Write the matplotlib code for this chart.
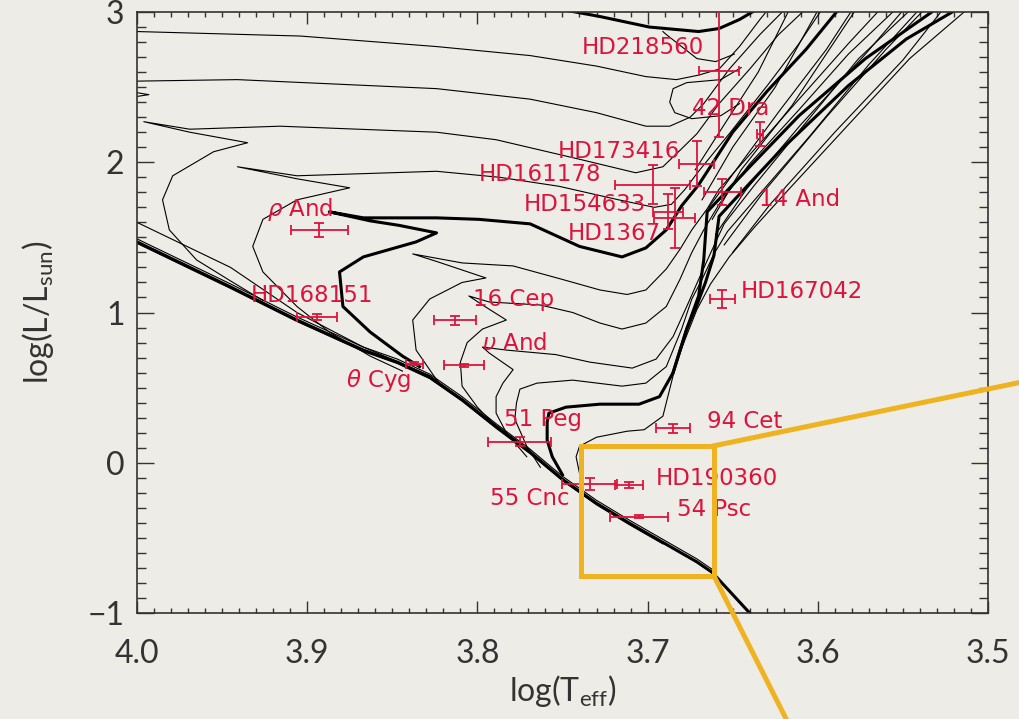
import matplotlib.pyplot as plt
from matplotlib.ticker import MultipleLocator, FormatStrFormatter

# ---- evolutionary tracks, log(Teff) / log(L/Lsun) ----
zams_teff = [4.000, 3.945, 3.906, 3.867, 3.847, 3.828, 3.809, 3.789, 3.769, 3.750,
             3.730, 3.711, 3.691, 3.671, 3.662, 3.640]
zams_lum = [1.47, 1.17, 0.95, 0.75, 0.67, 0.57, 0.42, 0.24, 0.07, -0.11,
            -0.27, -0.40, -0.53, -0.66, -0.73, -1.00]
zams2_teff = [4.000, 3.945, 3.906, 3.867, 3.847, 3.828, 3.809, 3.789, 3.769, 3.750,
              3.730, 3.711, 3.691, 3.671, 3.662]
zams2_lum = [1.49, 1.19, 0.97, 0.77, 0.69, 0.59, 0.44, 0.26, 0.09, -0.09,
             -0.25, -0.38, -0.51, -0.64, -0.71]
zams3_teff = [4.000, 3.945, 3.906, 3.867, 3.847, 3.828, 3.809, 3.789, 3.769, 3.750,
              3.730, 3.711, 3.691]
zams3_lum = [1.46, 1.16, 0.94, 0.74, 0.66, 0.56, 0.41, 0.23, 0.06, -0.12,
             -0.28, -0.41, -0.54]
edge_teff = [4.000, 3.945, 3.906, 3.867, 3.828, 3.789, 3.769]
edge_lum = [1.60, 1.30, 1.00, 0.77, 0.58, 0.25, 0.08]

top_teff = [3.787, 3.752, 3.728, 3.699, 3.670, 3.658, 3.646, 3.637]
top_lum = [3.07, 3.02, 2.97, 2.90, 2.87, 2.89, 2.95, 3.01]

h1_teff = [4.000, 3.904, 3.824, 3.769, 3.730, 3.701, 3.683, 3.670, 3.658, 3.646, 3.634, 3.629]
h1_lum = [2.87, 2.84, 2.77, 2.71, 2.64, 2.57, 2.55, 2.58, 2.62, 2.77, 2.95, 3.02]
loop1_teff = [3.691, 3.689, 3.671, 3.660, 3.649]
loop1_lum = [2.87, 2.85, 2.69, 2.67, 2.72]

h2_teff = [4.04, 3.993, 4.02, 4.03, 4.000, 3.941, 3.824, 3.769, 3.730, 3.701, 3.687,
           3.675, 3.667, 3.652, 3.634, 3.620]
h2_lum = [2.37, 2.45, 2.50, 2.53, 2.54, 2.55, 2.49, 2.42, 2.33, 2.24, 2.24,
          2.30, 2.39, 2.62, 2.85, 3.01]
loop2_teff = [3.645, 3.657, 3.677, 3.685, 3.687, 3.684, 3.674, 3.657, 3.646]
loop2_lum = [2.63, 2.55, 2.53, 2.49, 2.40, 2.33, 2.29, 2.31, 2.39]

h3_teff = [3.926, 3.945, 3.965, 3.981, 3.985, 3.979, 3.955, 3.935, 3.969, 3.996, 3.969,
           3.916, 3.824, 3.789, 3.740, 3.707, 3.691, 3.680, 3.671, 3.658, 3.640,
           3.623, 3.608]
h3_lum = [1.08, 1.21, 1.35, 1.55, 1.75, 1.91, 2.07, 2.13, 2.20, 2.27, 2.22,
          2.24, 2.20, 2.15, 2.02, 1.93, 1.97, 2.09, 2.19, 2.39, 2.62,
          2.85, 3.01]

h4_teff = [3.844, 3.863, 3.887, 3.906, 3.926, 3.932, 3.926, 3.906, 3.875, 3.906, 3.941,
           3.906, 3.824, 3.787, 3.752, 3.717, 3.696, 3.686, 3.678, 3.670, 3.652,
           3.629, 3.611, 3.598]
h4_lum = [0.61, 0.71, 0.87, 1.04, 1.27, 1.44, 1.62, 1.75, 1.83, 1.89, 1.97,
          1.91, 1.94, 1.90, 1.84, 1.75, 1.70, 1.72, 1.82, 1.94, 2.19,
          2.52, 2.79, 3.01]

rho_teff = [3.834, 3.844, 3.863, 3.879, 3.881, 3.867, 3.836, 3.824, 3.846, 3.863, 3.887,
            3.867, 3.824, 3.799, 3.769, 3.740, 3.715, 3.701, 3.689, 3.680, 3.670,
            3.650, 3.630, 3.607, 3.589]
rho_lum = [0.64, 0.71, 0.87, 1.04, 1.27, 1.37, 1.47, 1.53, 1.58, 1.61, 1.67,
           1.63, 1.63, 1.62, 1.59, 1.44, 1.37, 1.43, 1.55, 1.71, 1.85,
           2.20, 2.47, 2.75, 3.00]

l1_teff = [3.822, 3.836, 3.838, 3.828, 3.809, 3.795, 3.824, 3.838, 3.809, 3.779, 3.750,
           3.728, 3.712, 3.701, 3.689, 3.681, 3.674, 3.665, 3.658, 3.640, 3.611,
           3.582, 3.564]
l1_lum = [0.52, 0.75, 0.95, 1.09, 1.20, 1.23, 1.34, 1.39, 1.33, 1.31, 1.22,
          1.15, 1.12, 1.15, 1.29, 1.42, 1.55, 1.69, 1.82, 2.05, 2.42,
          2.79, 3.01]

l2_teff = [3.773, 3.789, 3.800, 3.809, 3.810, 3.806, 3.797, 3.783, 3.797, 3.805, 3.793,
           3.763, 3.744, 3.728, 3.715, 3.701, 3.689, 3.681, 3.674, 3.667, 3.658,
           3.640, 3.611, 3.582, 3.555]
l2_lum = [0.11, 0.24, 0.37, 0.51, 0.67, 0.80, 0.89, 0.95, 1.05, 1.11, 1.07,
          1.05, 1.00, 0.93, 0.89, 0.93, 1.04, 1.22, 1.40, 1.55, 1.72,
          1.99, 2.35, 2.72, 3.01]

l3_teff = [3.771, 3.783, 3.789, 3.789, 3.785, 3.779, 3.793, 3.797, 3.783, 3.754, 3.734,
           3.709, 3.695, 3.685, 3.677, 3.670, 3.662, 3.655, 3.637, 3.608, 3.576,
           3.546]
l3_lum = [0.04, 0.20, 0.33, 0.44, 0.53, 0.62, 0.73, 0.77, 0.75, 0.72, 0.67,
          0.63, 0.69, 0.84, 1.04, 1.22, 1.42, 1.59, 1.85, 2.25, 2.69,
          3.01]

l4_teff = [3.763, 3.771, 3.778, 3.777, 3.775, 3.765, 3.744, 3.715, 3.701, 3.689, 3.680,
           3.674, 3.668, 3.661, 3.653, 3.634, 3.605, 3.570, 3.541]
l4_lum = [-0.03, 0.11, 0.29, 0.40, 0.49, 0.53, 0.55, 0.51, 0.53, 0.64, 0.89,
          1.09, 1.22, 1.39, 1.54, 1.79, 2.17, 2.65, 3.01]

peg_teff = [3.750, 3.756, 3.759, 3.759, 3.758, 3.748, 3.728, 3.705, 3.693, 3.685, 3.677,
            3.670, 3.667, 3.665, 3.640, 3.611, 3.572, 3.533]
peg_lum = [-0.08, 0.04, 0.15, 0.27, 0.33, 0.37, 0.39, 0.39, 0.44, 0.60, 0.89,
           1.11, 1.35, 1.67, 1.97, 2.31, 2.69, 3.00]

low_teff = [3.738, 3.742, 3.740, 3.730, 3.712, 3.702, 3.691, 3.687, 3.683, 3.678, 3.671,
            3.663, 3.652, 3.637, 3.617, 3.582, 3.546, 3.513]
low_lum = [-0.18, 0.04, 0.11, 0.17, 0.21, 0.22, 0.31, 0.49, 0.67, 0.82, 1.02,
           1.19, 1.37, 1.57, 1.82, 2.25, 2.69, 3.01]

# later (thick) giant branch and asymptotic-branch lines crowding the red giant region
rgb_teff = [3.685, 3.677, 3.671, 3.666, 3.661, 3.658, 3.640, 3.621, 3.582, 3.548, 3.521]
rgb_lum = [0.60, 0.89, 1.05, 1.20, 1.38, 1.64, 1.86, 2.09, 2.51, 2.82, 3.00]
agb1_teff = [3.672, 3.655, 3.635, 3.617]
agb1_lum = [1.95, 2.25, 2.60, 3.01]
agb2_teff = [3.668, 3.650, 3.625, 3.600]
agb2_lum = [1.75, 2.10, 2.50, 3.01]
agb3_teff = [3.664, 3.648, 3.622, 3.595, 3.580]
agb3_lum = [1.70, 1.95, 2.35, 2.75, 3.01]
agb4_teff = [3.662, 3.645, 3.615, 3.578]
agb4_lum = [1.62, 1.95, 2.38, 3.01]
agb5_teff = [3.655, 3.632, 3.595, 3.560, 3.538]
agb5_lum = [1.45, 1.80, 2.30, 2.75, 3.01]
agb6_teff = [3.650, 3.628, 3.590, 3.550, 3.527]
agb6_lum = [1.40, 1.72, 2.20, 2.68, 3.01]
agb7_teff = [3.660, 3.642, 3.610, 3.572, 3.550]
agb7_lum = [1.52, 1.82, 2.25, 2.72, 3.01]

# ---- stars ----
star_names = ['HD218560', '42 Dra', 'HD173416', 'HD161178', 'HD154633', 'HD1367',
              '14 And', 'HD167042', r'$\rho$ And', 'HD168151', '16 Cep',
              r'$\upsilon$ And', r'$\theta$ Cyg', '51 Peg', '94 Cet', '55 Cnc',
              'HD190360', '54 Psc']
star_teff = [3.658, 3.634, 3.671, 3.697, 3.688, 3.684, 3.656, 3.656, 3.893, 3.894,
             3.813, 3.808, 3.837, 3.775, 3.685, 3.734, 3.711, 3.705]
star_lum = [2.61, 2.19, 1.99, 1.85, 1.67, 1.63, 1.80, 1.09, 1.55, 0.97,
            0.95, 0.65, 0.66, 0.14, 0.23, -0.14, -0.15, -0.36]
teff_err = [0.012, 0.002, 0.0103, 0.022, 0.009, 0.012, 0.011, 0.0073, 0.0167, 0.0117,
            0.0123, 0.0117, 0.005, 0.0185, 0.010, 0.016, 0.0082, 0.017]
lum_err = [0.44, 0.08, 0.15, 0.13, 0.117, 0.20, 0.087, 0.06, 0.045, 0.02,
           0.03, 0.01, 0.01, 0.03, 0.03, 0.04, 0.02, 0.01]

# label placement (pixel offsets from the star, alignment)
label_dx = [-15, -68, -17, -51, -22, -14, 37, 18, -52, -67, 18, 18, -3, -16, 34, -20, 27, 38]
label_dy = [23, 25, 12, 10, 7, -16, -7, 7, 20, 22, 21, 22, -17, 22, 7, -15, 7, 7]
label_ha = ['right', 'left', 'right', 'right', 'right', 'right', 'left', 'left', 'left',
            'left', 'left', 'left', 'right', 'left', 'left', 'right', 'left', 'left']

# zoom box and its connector lines
box_teff = [3.739, 3.661, 3.661, 3.739, 3.739]
box_lum = [0.113, 0.113, -0.753, -0.753, 0.113]
conn1_teff = [3.661, 3.482]
conn1_lum = [0.113, 0.533]
conn2_teff = [3.661, 3.6185]
conn2_lum = [-0.753, -1.707]

bg = '#eeece6'
red = '#dc143c'
orange = '#efb321'
ink = '#333333'
tick_font = 'Lato'

fig = plt.figure(figsize=(10.2, 7.19), dpi=100, facecolor=bg)
ax = fig.add_axes([0.1343, 0.1474, 0.8343, 0.8359])
ax.set_facecolor(bg)

thin = [(zams2_teff, zams2_lum), (zams3_teff, zams3_lum), (edge_teff, edge_lum),
        (h1_teff, h1_lum), (loop1_teff, loop1_lum), (h2_teff, h2_lum),
        (loop2_teff, loop2_lum), (h3_teff, h3_lum), (h4_teff, h4_lum),
        (l1_teff, l1_lum), (l2_teff, l2_lum), (l3_teff, l3_lum), (l4_teff, l4_lum),
        (low_teff, low_lum), (agb1_teff, agb1_lum), (agb2_teff, agb2_lum),
        (agb3_teff, agb3_lum), (agb4_teff, agb4_lum), (agb5_teff, agb5_lum),
        (agb6_teff, agb6_lum), (agb7_teff, agb7_lum)]
thick = [(zams_teff, zams_lum), (top_teff, top_lum), (rho_teff, rho_lum),
         (peg_teff, peg_lum), (rgb_teff, rgb_lum)]

for t, l in thin:
    ax.plot(t, l, color='black', lw=0.8)
for t, l in thick:
    ax.plot(t, l, color='black', lw=2.2)

ax.errorbar(star_teff, star_lum, xerr=teff_err, yerr=lum_err, fmt='none',
            ecolor=red, elinewidth=1.3, capsize=3.6, capthick=1.3, zorder=4)

for i, name in enumerate(star_names):
    ax.annotate(name, xy=(star_teff[i], star_lum[i]), xytext=(label_dx[i], label_dy[i]),
                textcoords='offset pixels', ha=label_ha[i], va='center',
                color=red, fontsize=16.5, family='DejaVu Sans', zorder=5)

ax.plot(box_teff, box_lum, color=orange, lw=3.6, solid_joinstyle='miter', zorder=6)
ax.plot(conn1_teff, conn1_lum, color=orange, lw=3.6, clip_on=False, zorder=6)
ax.plot(conn2_teff, conn2_lum, color=orange, lw=3.6, clip_on=False, zorder=6)

ax.set_xlim(4.0, 3.5)
ax.set_ylim(-1, 3)
ax.xaxis.set_major_locator(MultipleLocator(0.1))
ax.xaxis.set_minor_locator(MultipleLocator(0.01))
ax.yaxis.set_major_locator(MultipleLocator(1))
ax.yaxis.set_minor_locator(MultipleLocator(0.1))
ax.xaxis.set_major_formatter(FormatStrFormatter('%.1f'))

ax.tick_params(axis='both', which='both', direction='in', top=True, right=True,
               color='#333333', width=1.0)
ax.tick_params(axis='x', which='major', length=8.6, pad=19)
ax.tick_params(axis='x', which='minor', length=3.6)
ax.tick_params(axis='y', which='major', length=12.2, pad=9)
ax.tick_params(axis='y', which='minor', length=6.5)
for lab in ax.get_xticklabels() + ax.get_yticklabels():
    lab.set_family(tick_font)
    lab.set_weight('normal')
    lab.set_fontsize(23)
    lab.set_color(ink)

for s in ax.spines.values():
    s.set_color('#333333')
    s.set_linewidth(1.2)

ax.set_xlabel(r'log(T$_\mathregular{eff}$)', family=tick_font, fontsize=23, color=ink)
ax.set_ylabel(r'log(L/L$_\mathregular{sun}$)', family=tick_font, fontsize=23, color=ink)
ax.xaxis.set_label_coords(0.5006, -0.100)
ax.yaxis.set_label_coords(-0.095, 0.5)

fig.savefig('out.png', dpi=100, facecolor=bg)
